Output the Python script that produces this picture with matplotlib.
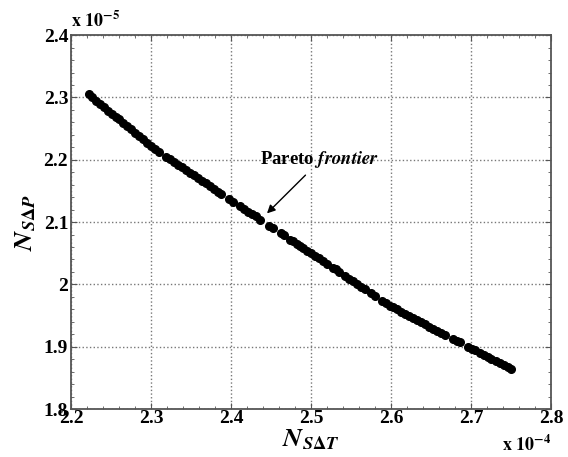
import numpy as np
import matplotlib
matplotlib.use("Agg")
import matplotlib.pyplot as plt
from matplotlib.ticker import MultipleLocator, FuncFormatter

plt.rcParams['font.family'] = ['Liberation Serif', 'DejaVu Serif']
plt.rcParams['mathtext.fontset'] = 'stix'

# Pareto front points: N_s(dT) in units of 1e-4, N_s(dP) in units of 1e-5
ns_dt = [2.222, 2.226, 2.231, 2.236, 2.241, 2.246, 2.251, 2.256, 2.260, 2.265,
         2.270, 2.275, 2.280, 2.285, 2.290, 2.295, 2.300, 2.305, 2.310,
         2.319, 2.324, 2.329, 2.334, 2.339, 2.344, 2.349, 2.354, 2.359, 2.364,
         2.369, 2.374, 2.379, 2.384, 2.388, 2.398,
         2.403, 2.411, 2.416, 2.421, 2.426, 2.431, 2.436, 2.448, 2.452, 2.462,
         2.466, 2.474, 2.478, 2.482, 2.486, 2.490, 2.495, 2.500,
         2.505, 2.510, 2.515, 2.520, 2.527, 2.531, 2.535, 2.543, 2.548, 2.553,
         2.558, 2.563, 2.567, 2.575, 2.580, 2.589, 2.594, 2.599,
         2.603, 2.608, 2.613, 2.618, 2.623, 2.628, 2.633, 2.637, 2.643, 2.648,
         2.653, 2.658, 2.663, 2.667, 2.677, 2.682, 2.686, 2.696,
         2.701, 2.705, 2.711, 2.716, 2.721, 2.725, 2.731, 2.736, 2.741, 2.746, 2.750]
ns_dp = [2.305, 2.301, 2.295, 2.290, 2.285, 2.279, 2.274, 2.269, 2.265, 2.259,
         2.254, 2.249, 2.243, 2.238, 2.233, 2.227, 2.222, 2.217, 2.213,
         2.205, 2.201, 2.197, 2.192, 2.188, 2.184, 2.179, 2.175, 2.171, 2.166,
         2.162, 2.158, 2.153, 2.149, 2.145, 2.137,
         2.132, 2.126, 2.121, 2.117, 2.113, 2.109, 2.104, 2.094, 2.091, 2.082,
         2.079, 2.072, 2.069, 2.065, 2.062, 2.059, 2.054, 2.050,
         2.046, 2.042, 2.037, 2.033, 2.027, 2.024, 2.020, 2.013, 2.009, 2.005,
         2.001, 1.996, 1.993, 1.986, 1.982, 1.974, 1.970, 1.966,
         1.963, 1.960, 1.956, 1.953, 1.949, 1.946, 1.943, 1.940, 1.936, 1.932,
         1.929, 1.926, 1.922, 1.919, 1.913, 1.909, 1.907, 1.900,
         1.896, 1.894, 1.890, 1.887, 1.884, 1.881, 1.877, 1.874, 1.871, 1.868, 1.865]

x = np.array(ns_dt)
y = np.array(ns_dp)

fig = plt.figure(figsize=(5.68, 4.57), dpi=100)
ax = fig.add_axes([0.125, 0.105, 0.845, 0.818])

ax.plot(x, y, 'o', color='black', ms=5.5, mec='black')

ax.set_xlim(2.2, 2.8)
ax.set_ylim(1.8, 2.4)
ax.xaxis.set_major_locator(MultipleLocator(0.1))
ax.yaxis.set_major_locator(MultipleLocator(0.1))
ax.xaxis.set_minor_locator(MultipleLocator(0.02))
ax.yaxis.set_minor_locator(MultipleLocator(0.02))
fmt = FuncFormatter(lambda v, p: '%g' % round(v, 2))
ax.xaxis.set_major_formatter(fmt)
ax.yaxis.set_major_formatter(fmt)

ax.grid(True, which='major', linestyle=':', color='#777777', linewidth=1.0)
ax.tick_params(which='both', direction='in', top=True, right=True, color='#555555')
ax.tick_params(which='major', length=4, labelsize=14)
ax.tick_params(axis='x', which='major', pad=1)
ax.tick_params(axis='y', which='major', pad=2)
ax.tick_params(which='minor', length=2.5)
for lab in ax.get_xticklabels() + ax.get_yticklabels():
    lab.set_fontweight('bold')
for sp in ax.spines.values():
    sp.set_color('#555555')
    sp.set_linewidth(1.3)

ax.set_xlabel(r'$\mathbfit{N}_{\mathbfit{S}\mathbf{\Delta}\mathbfit{T}}$', fontsize=19, labelpad=0)
ax.set_ylabel(r'$\mathbfit{N}_{\mathbfit{S}\mathbf{\Delta}\mathbfit{P}}$', fontsize=19, labelpad=4)

# scale factors
ax.text(0.0, 1.012, r'$\mathbf{x\ 10^{-5}}$', transform=ax.transAxes,
        fontsize=13, ha='left', va='bottom')
ax.text(1.0, -0.068, r'$\mathbf{x\ 10^{-4}}$', transform=ax.transAxes,
        fontsize=13, ha='right', va='top')

ax.annotate('Pareto $\\mathbfit{frontier}$', xy=(2.445, 2.114), xytext=(2.511, 2.183),
            fontsize=13.5, fontweight='bold', ha='center', va='bottom',
            arrowprops=dict(arrowstyle='-|>', color='black', lw=1.0,
                            mutation_scale=12, shrinkA=2, shrinkB=0,
                            relpos=(0.42, 0.0)))

fig.savefig('out.png', dpi=100)
